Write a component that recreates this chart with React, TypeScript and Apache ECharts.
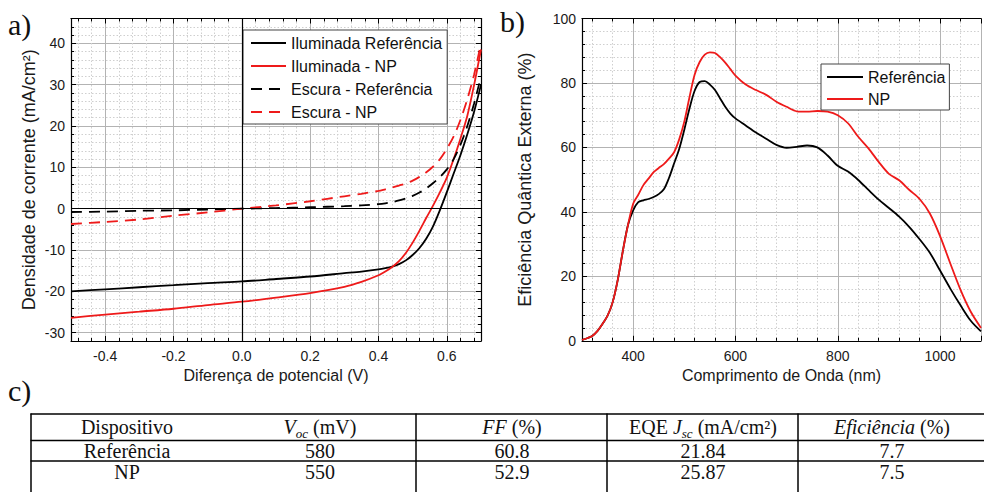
import React, { useEffect, useRef } from 'react';
import * as echarts from 'echarts';

// ---------- data: panel a) J-V curves ----------
const voltage = [-0.5, -0.4, -0.3, -0.2, -0.1, 0, 0.1, 0.2, 0.3, 0.35, 0.4, 0.42, 0.44, 0.46, 0.48, 0.5, 0.52, 0.54, 0.56, 0.58, 0.6, 0.62, 0.64, 0.66, 0.68, 0.7];
const jIlumRef = [-20, -19.5, -19.0, -18.5, -18.0, -17.6, -17.0, -16.4, -15.6, -15.2, -14.7, -14.4, -14.0, -13.4, -12.5, -11.2, -9.5, -7.2, -4.2, -0.3, 4, 8.5, 13, 18, 23.5, 30];
const jIlumNP = [-26.4, -25.6, -24.9, -24.2, -23.3, -22.5, -21.5, -20.4, -18.9, -17.7, -16.1, -15.2, -14.1, -12.7, -10.7, -8.2, -5.3, -2.2, 0.8, 4, 7.5, 12, 17, 22.5, 30, 38.5];
const jEscRef = [-0.8, -0.7, -0.5, -0.4, -0.2, 0, 0.15, 0.35, 0.6, 0.8, 1.1, 1.3, 1.6, 2.0, 2.5, 3.1, 3.9, 4.9, 6.2, 7.7, 9.5, 12, 15.5, 20, 25.5, 32];
const jEscNP = [-3.7, -3.2, -2.6, -1.7, -0.9, 0, 0.8, 1.8, 3.0, 3.6, 4.3, 4.7, 5.1, 5.6, 6.1, 6.8, 7.7, 8.8, 10.2, 12, 14.5, 17.5, 21.5, 26.5, 32.5, 40];
const jvSeriesNames = ['Iluminada Referência', 'Iluminada - NP', 'Escura - Referência', 'Escura - NP'];

// ---------- data: panel b) EQE ----------
const wavelength = [300, 310, 320, 330, 340, 350, 360, 370, 380, 390, 400, 410, 420, 430, 440, 450, 460, 470, 480, 490, 500, 510, 520, 530, 540, 550, 560, 570, 580, 590, 600, 620, 640, 660, 680, 700, 720, 740, 760, 780, 800, 820, 840, 860, 880, 900, 920, 940, 960, 980, 1000, 1020, 1040, 1060, 1080];
const eqeRef = [0.3, 0.8, 1.5, 3.0, 5.2, 7.8, 12, 19, 28, 36, 40.5, 43, 43.6, 44, 44.6, 45.5, 47, 50.5, 55, 59.5, 65.5, 72, 77.5, 80.3, 80.6, 79.5, 77.8, 75.2, 72.6, 70.5, 69, 66.8, 64.6, 62.7, 60.8, 59.9, 60.2, 60.6, 60, 57.5, 54.3, 52.5, 49.9, 46.8, 43.8, 41.2, 38.5, 35.3, 31.5, 27.3, 21.8, 16.2, 11, 6.2, 2.9];
const eqeNP = [0.3, 0.8, 1.5, 3.0, 5.2, 7.8, 12, 19, 28, 36, 42.5, 45.3, 48.3, 50.3, 52.3, 53.6, 54.8, 56.5, 58.5, 62.5, 68, 75.5, 82.5, 86.5, 88.8, 89.5, 89.3, 88, 86.3, 84.3, 82.3, 79.5, 77.8, 76.3, 74.2, 72.6, 71.2, 71.1, 71.3, 71.1, 70, 67.5, 63.3, 59.7, 55.5, 51.8, 49.8, 46.8, 44, 39.5, 32.5, 24, 15.8, 9, 4];
const eqeSeriesNames = ['Referência', 'NP'];

// ---------- data: panel c) table ----------
const tableHeaders = ['Dispositivo', '{i|V}{sub|oc}{n| (mV)}', '{i|FF}{n| (%)}', '{n|EQE }{i|J}{sub|sc}{n| (mA/cm²)}', '{i|Eficiência}{n| (%)}'];
const devices = ['Referência', 'NP'];
const vocValues = ['580', '550'];
const ffValues = ['60.8', '52.9'];
const jscValues = ['21.84', '25.87'];
const effValues = ['7.7', '7.5'];

const SANS = '"Liberation Sans", Arial, sans-serif';
const SERIF = '"Liberation Serif", "Times New Roman", serif';
const RED = '#ee1a1a';

const majorGrid = { show: true, lineStyle: { color: '#b3b3b3', width: 1 } };
const minorGrid = { show: true, lineStyle: { color: '#cfcfcf', width: 1, type: [1.5, 2] } };

function frameAxis(gridIndex: number, position: string, min: number, max: number, splitNumber: number, extra: any = {}) {
  return {
    gridIndex,
    type: 'value',
    position,
    min,
    max,
    splitNumber,
    axisLine: { show: true, onZero: false, lineStyle: { color: '#000', width: 1.2 } },
    axisTick: { show: true, inside: true, length: 5, lineStyle: { color: '#000', width: 1 } },
    minorTick: { show: true, splitNumber: 5, length: 3, lineStyle: { color: '#000', width: 1 } },
    axisLabel: { show: false },
    splitLine: { show: false },
    ...extra,
  };
}

const labelStyle = { fontSize: 14, fontFamily: SANS, color: '#1a1a1a' };

export default function App() {
  const ref = useRef<HTMLDivElement>(null);

  useEffect(() => {
    if (!ref.current) return;
    const chart = echarts.init(ref.current, undefined, { renderer: 'svg' });

    const jv = (arr: number[]) => voltage.map((v, i) => [v, arr[i]]);
    const eq = (arr: number[]) => wavelength.map((w, i) => [w, arr[i]]);

    const colX = [127, 320, 512, 703, 892];
    const rowY = [427, 450.5, 472];
    const rich = {
      n: { fontSize: 20, fontFamily: SERIF, lineHeight: 26, fill: '#111' },
      i: { fontSize: 20, fontFamily: SERIF, fontStyle: 'italic', lineHeight: 26, fill: '#111' },
      sub: { fontSize: 13, fontFamily: SERIF, fontStyle: 'italic', lineHeight: 12, verticalAlign: 'bottom', fill: '#111' },
    };
    const cell = (text: string, x: number, y: number) => ({
      type: 'text',
      x,
      y,
      style: { text, fontSize: 20, fontFamily: SERIF, fill: '#111', align: 'center', verticalAlign: 'middle', rich },
    });
    const tableTexts: any[] = [];
    tableHeaders.forEach((h, c) => tableTexts.push(cell(h, colX[c], rowY[0])));
    devices.forEach((d, r) => {
      const vals = [d, vocValues[r], ffValues[r], jscValues[r], effValues[r]];
      vals.forEach((v, c) => tableTexts.push(cell(v, colX[c], rowY[r + 1])));
    });
    const hLine = (y: number) => ({ type: 'line', shape: { x1: 30.5, y1: y, x2: 984, y2: y }, style: { stroke: '#000', lineWidth: 1.5 } });
    const vLine = (x: number) => ({ type: 'line', shape: { x1: x, y1: 413.5, x2: x, y2: 492 }, style: { stroke: '#000', lineWidth: 1.5 } });

    const legendCommon = {
      orient: 'vertical',
      itemHeight: 14,
      borderColor: '#444',
      borderWidth: 1,
      borderRadius: 0,
      backgroundColor: '#fff',
      itemStyle: { opacity: 0 },
    };

    const option: any = {
      animation: false,
      backgroundColor: '#fff',
      grid: [
        { left: 71, top: 18.5, width: 410, height: 322.5 },
        { left: 582, top: 18.5, width: 400.5, height: 322.3 },
      ],
      xAxis: [
        frameAxis(0, 'bottom', -0.5, 0.7, 6, {
          name: 'Diferença de potencial (V)',
          nameLocation: 'middle',
          nameGap: 25,
          nameTextStyle: { fontSize: 16, fontFamily: SANS, color: '#1a1a1a' },
          axisLabel: {
            show: true,
            margin: 8,
            ...labelStyle,
            formatter: (v: number) => (Math.round(v * 10) % 2 === 0 ? v.toFixed(1) : ''),
          },
          splitLine: majorGrid,
          minorSplitLine: minorGrid,
        }),
        frameAxis(0, 'top', -0.5, 0.7, 6),
        frameAxis(1, 'bottom', 300, 1080, 4, {
          name: 'Comprimento de Onda (nm)',
          nameLocation: 'middle',
          nameGap: 25,
          nameTextStyle: { fontSize: 16, fontFamily: SANS, color: '#1a1a1a' },
          axisLabel: {
            show: true,
            margin: 8,
            ...labelStyle,
            formatter: (v: number) => (Math.round(v) % 200 === 0 ? String(Math.round(v)) : ''),
          },
          splitLine: majorGrid,
          minorSplitLine: minorGrid,
        }),
        frameAxis(1, 'top', 300, 1080, 4),
      ],
      yAxis: [
        frameAxis(0, 'left', -32, 46, 8, {
          name: 'Densidade de corrente (mA/cm²)',
          nameLocation: 'middle',
          nameGap: 33,
          nameTextStyle: { fontSize: 18, fontFamily: SANS, color: '#1a1a1a' },
          axisLabel: {
            show: true,
            margin: 6,
            ...labelStyle,
            formatter: (v: number) => (Math.round(v) % 10 === 0 ? String(Math.round(v)) : ''),
          },
          splitLine: majorGrid,
          minorSplitLine: minorGrid,
        }),
        frameAxis(0, 'right', -32, 46, 8),
        frameAxis(1, 'left', 0, 100, 5, {
          name: 'Eficiência Quântica Externa (%)',
          nameLocation: 'middle',
          nameGap: 48,
          nameTextStyle: { fontSize: 18, fontFamily: SANS, color: '#1a1a1a' },
          axisLabel: {
            show: true,
            margin: 6,
            ...labelStyle,
            formatter: (v: number) => (Math.round(v) % 20 === 0 ? String(Math.round(v)) : ''),
          },
          splitLine: majorGrid,
          minorSplitLine: minorGrid,
        }),
      ],
      legend: [
        {
          ...legendCommon,
          data: jvSeriesNames,
          left: 243,
          top: 30,
          itemWidth: 35,
          itemGap: 7,
          padding: [5, 5, 4, 7],
          textStyle: { fontSize: 16, fontFamily: SANS, color: '#111', lineHeight: 14 },
        },
        {
          ...legendCommon,
          data: eqeSeriesNames,
          left: 821,
          top: 64,
          itemWidth: 36,
          itemGap: 6,
          padding: [5, 4, 3, 5],
          textStyle: { fontSize: 16, fontFamily: SANS, color: '#111', lineHeight: 14 },
        },
      ],
      series: [
        {
          name: jvSeriesNames[0], type: 'line', xAxisIndex: 0, yAxisIndex: 0, data: jv(jIlumRef),
          symbol: 'none', smooth: 0.3,
          lineStyle: { color: '#000', width: 1.8 }, itemStyle: { color: '#000' },
          markLine: {
            silent: true, symbol: ['none', 'none'], label: { show: false },
            lineStyle: { color: '#000', width: 1.2, type: 'solid' },
            data: [{ xAxis: 0 }, { yAxis: 0 }],
          },
        },
        {
          name: jvSeriesNames[1], type: 'line', xAxisIndex: 0, yAxisIndex: 0, data: jv(jIlumNP),
          symbol: 'none', smooth: 0.3,
          lineStyle: { color: RED, width: 1.8 }, itemStyle: { color: RED },
        },
        {
          name: jvSeriesNames[2], type: 'line', xAxisIndex: 0, yAxisIndex: 0, data: jv(jEscRef),
          symbol: 'none', smooth: 0.3,
          lineStyle: { color: '#000', width: 1.8, type: [11, 7] }, itemStyle: { color: '#000' },
        },
        {
          name: jvSeriesNames[3], type: 'line', xAxisIndex: 0, yAxisIndex: 0, data: jv(jEscNP),
          symbol: 'none', smooth: 0.3,
          lineStyle: { color: RED, width: 1.8, type: [11, 7] }, itemStyle: { color: RED },
        },
        {
          name: eqeSeriesNames[0], type: 'line', xAxisIndex: 2, yAxisIndex: 2, data: eq(eqeRef),
          symbol: 'none', smooth: 0.3,
          lineStyle: { color: '#000', width: 1.8 }, itemStyle: { color: '#000' },
        },
        {
          name: eqeSeriesNames[1], type: 'line', xAxisIndex: 2, yAxisIndex: 2, data: eq(eqeNP),
          symbol: 'none', smooth: 0.3,
          lineStyle: { color: RED, width: 1.8 }, itemStyle: { color: RED },
        },
      ],
      graphic: [
        { type: 'text', x: 8, y: 24, style: { text: 'a)', fontSize: 30, fontFamily: SERIF, fill: '#111', verticalAlign: 'middle' } },
        { type: 'text', x: 500, y: 21, style: { text: 'b)', fontSize: 30, fontFamily: SERIF, fill: '#111', verticalAlign: 'middle' } },
        { type: 'text', x: 8, y: 390, style: { text: 'c)', fontSize: 30, fontFamily: SERIF, fill: '#111', verticalAlign: 'middle' } },
        hLine(414),
        hLine(440.5),
        hLine(461),
        vLine(31),
        vLine(416),
        vLine(607),
        vLine(798),
        ...tableTexts,
      ],
    };

    chart.setOption(option);
    return () => chart.dispose();
  }, []);

  return (
    <div
      ref={ref}
      style={{ position: 'absolute', left: 0, top: 0, width: 984, height: 492, background: '#fff' }}
    />
  );
}
